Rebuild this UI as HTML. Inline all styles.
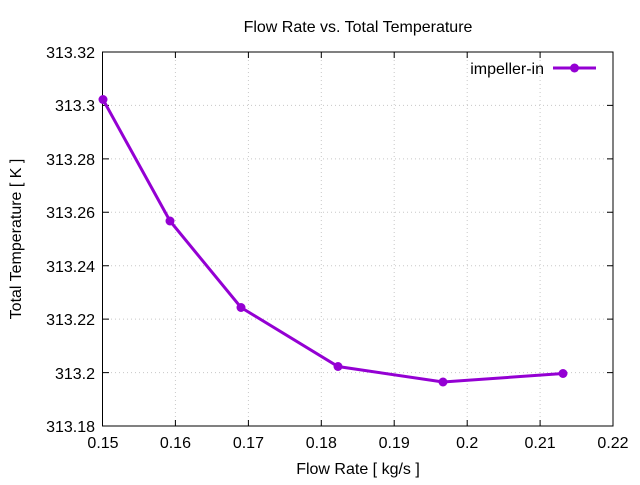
<!DOCTYPE html><html><head><style>body{margin:0;background:#fff}</style></head><body>
<svg width="640" height="480" xmlns="http://www.w3.org/2000/svg" font-family="Liberation Sans, sans-serif" font-size="16">
<rect width="640" height="480" fill="#fff"/>
<g stroke="#c8c8c8" stroke-dasharray="1,3" stroke-width="1">
<line x1="175.4" y1="52" x2="175.4" y2="426"/><line x1="248.4" y1="52" x2="248.4" y2="426"/><line x1="321.3" y1="52" x2="321.3" y2="426"/><line x1="394.2" y1="52" x2="394.2" y2="426"/><line x1="467.2" y1="52" x2="467.2" y2="426"/><line x1="540.1" y1="52" x2="540.1" y2="426"/>
<line x1="103" y1="105.4" x2="613" y2="105.4"/><line x1="103" y1="158.9" x2="613" y2="158.9"/><line x1="103" y1="212.3" x2="613" y2="212.3"/><line x1="103" y1="265.7" x2="613" y2="265.7"/><line x1="103" y1="319.1" x2="613" y2="319.1"/><line x1="103" y1="372.6" x2="613" y2="372.6"/>
</g>
<g stroke="#000" stroke-width="1">
<rect x="102.5" y="52" width="510.5" height="374" fill="none"/>
<path d="M175.4 426v-6M248.4 426v-6M321.3 426v-6M394.2 426v-6M467.2 426v-6M540.1 426v-6M175.4 52v6M248.4 52v6M321.3 52v6M394.2 52v6M467.2 52v6M540.1 52v6M103 105.4h6M103 158.9h6M103 212.3h6M103 265.7h6M103 319.1h6M103 372.6h6M613 105.4h-6M613 158.9h-6M613 212.3h-6M613 265.7h-6M613 319.1h-6M613 372.6h-6"/>
</g>
<g text-anchor="end">
<text x="95" y="58">313.32</text><text x="95" y="111">313.3</text><text x="95" y="165">313.28</text><text x="95" y="218">313.26</text><text x="95" y="272">313.24</text><text x="95" y="325">313.22</text><text x="95" y="379">313.2</text><text x="95" y="432">313.18</text>
</g>
<g text-anchor="middle">
<text x="103" y="448">0.15</text><text x="175.4" y="448">0.16</text><text x="248.4" y="448">0.17</text><text x="321.3" y="448">0.18</text><text x="394.2" y="448">0.19</text><text x="467.2" y="448">0.2</text><text x="540.1" y="448">0.21</text><text x="613" y="448">0.22</text>
<text x="358" y="32">Flow Rate vs. Total Temperature</text>
<text x="358" y="474">Flow Rate [ kg/s ]</text>
<text transform="translate(21,239) rotate(-90)">Total Temperature [ K ]</text>
</g>
<text x="544" y="74" text-anchor="end">impeller-in</text>
<g stroke="#9400d3" stroke-width="3" fill="#9400d3">
<line x1="553" y1="68" x2="596" y2="68"/>
<polyline fill="none" points="103,99.5 170,221 241,307.5 338,366.5 443,382 563,373.5"/>
</g>
<g fill="#9400d3">
<circle cx="574.5" cy="68" r="4.5"/>
<circle cx="103" cy="99.5" r="4.5"/><circle cx="170" cy="221" r="4.5"/><circle cx="241" cy="307.5" r="4.5"/><circle cx="338" cy="366.5" r="4.5"/><circle cx="443" cy="382" r="4.5"/><circle cx="563" cy="373.5" r="4.5"/>
</g>
</svg></body></html>
